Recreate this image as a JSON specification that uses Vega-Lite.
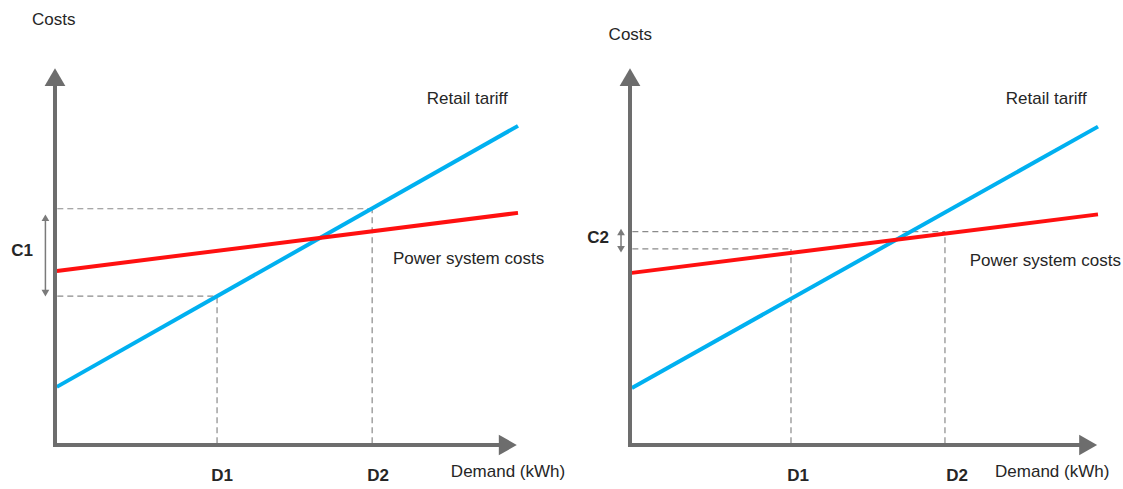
{
  "$schema": "https://vega.github.io/schema/vega-lite/v6.json",
  "padding": 0,
  "spacing": 0,
  "bounds": "flush",
  "background": "white",
  "config": {"view": {"stroke": null}, "text": {"font": "Liberation Sans"}},
  "data": {"values": [
    {"panel": "A", "role": "axis", "x": -0.43, "y": 0, "x2": 96.5, "y2": 0},
    {"panel": "A", "role": "axis", "x": 0, "y": -0.53, "x2": 0, "y2": 96},
    {"panel": "A", "role": "yhead", "x": 0, "y": 98.1},
    {"panel": "A", "role": "xhead", "x": 97.8, "y": 0},
    {"panel": "A", "role": "curve", "series": "Retail tariff", "x": 0.4, "y": 15.5, "x2": 100, "y2": 85.1},
    {"panel": "A", "role": "curve", "series": "Power system costs", "x": 0.4, "y": 46.4, "x2": 100, "y2": 61.9},
    {"panel": "A", "role": "guide", "x": 0.5, "y": 39.7, "x2": 35, "y2": 39.7},
    {"panel": "A", "role": "guide", "x": 35, "y": 0.5, "x2": 35, "y2": 39.7},
    {"panel": "A", "role": "guide", "x": 0.5, "y": 63.0, "x2": 68.5, "y2": 63.0},
    {"panel": "A", "role": "guide", "x": 68.5, "y": 0.5, "x2": 68.5, "y2": 63.0},
    {"panel": "A", "role": "bracket", "x": -2.07, "y": 40.5, "x2": -2.07, "y2": 60.6},
    {"panel": "A", "role": "bup", "x": -2.07, "y": 60.6},
    {"panel": "A", "role": "bdown", "x": -2.07, "y": 40.5},
    {"panel": "A", "role": "text", "text": "Costs", "x": -4.97, "y": 113.3},
    {"panel": "A", "role": "text", "text": "Retail tariff", "x": 80.3, "y": 92.3},
    {"panel": "A", "role": "text", "text": "Power system costs", "x": 73.0, "y": 49.6},
    {"panel": "A", "role": "text", "text": "Demand (kWh)", "x": 85.5, "y": -7.2},
    {"panel": "A", "role": "bold", "text": "C1", "x": -7.13, "y": 51.7},
    {"panel": "A", "role": "bold", "text": "D1", "x": 36.1, "y": -8.3},
    {"panel": "A", "role": "bold", "text": "D2", "x": 69.8, "y": -8.3},
    {"panel": "B", "role": "axis", "x": -0.43, "y": 0, "x2": 96.5, "y2": 0},
    {"panel": "B", "role": "axis", "x": 0, "y": -0.53, "x2": 0, "y2": 96},
    {"panel": "B", "role": "yhead", "x": 0, "y": 98.1},
    {"panel": "B", "role": "xhead", "x": 97.9, "y": 0},
    {"panel": "B", "role": "curve", "series": "Retail tariff", "x": 0.4, "y": 15.2, "x2": 100, "y2": 84.9},
    {"panel": "B", "role": "curve", "series": "Power system costs", "x": 0.4, "y": 45.9, "x2": 100, "y2": 61.5},
    {"panel": "B", "role": "guide", "x": 0.5, "y": 52.3, "x2": 34.4, "y2": 52.3},
    {"panel": "B", "role": "guide", "x": 34.4, "y": 0.5, "x2": 34.4, "y2": 52.3},
    {"panel": "B", "role": "guide", "x": 0.5, "y": 56.9, "x2": 67.3, "y2": 56.9},
    {"panel": "B", "role": "guide", "x": 67.3, "y": 0.5, "x2": 67.3, "y2": 56.9},
    {"panel": "B", "role": "bracket", "x": -1.92, "y": 52.2, "x2": -1.92, "y2": 56.8},
    {"panel": "B", "role": "bup", "x": -1.92, "y": 56.8},
    {"panel": "B", "role": "bdown", "x": -1.92, "y": 52.2},
    {"panel": "B", "role": "text", "text": "Costs", "x": -4.57, "y": 109.3},
    {"panel": "B", "role": "text", "text": "Retail tariff", "x": 80.3, "y": 92.3},
    {"panel": "B", "role": "text", "text": "Power system costs", "x": 72.6, "y": 49.1},
    {"panel": "B", "role": "text", "text": "Demand (kWh)", "x": 78.0, "y": -7.2},
    {"panel": "B", "role": "bold", "text": "C2", "x": -6.84, "y": 55.2},
    {"panel": "B", "role": "bold", "text": "D1", "x": 35.9, "y": -8.3},
    {"panel": "B", "role": "bold", "text": "D2", "x": 69.9, "y": -8.3}
  ]},
  "hconcat": [
    {
      "width": 570, "height": 489,
      "transform": [{"filter": "datum.panel === 'A'"}],
      "layer": [
        {"transform": [{"filter": "datum.role === 'guide'"}],
         "mark": {"type": "rule", "stroke": "#8a8a8a", "strokeWidth": 1.2, "strokeDash": [6, 4]},
         "encoding": {
           "x": {"field": "x", "type": "quantitative", "scale": {"domain": [-11.879, 111.231], "nice": false, "zero": false}, "axis": null},
           "y": {"field": "y", "type": "quantitative", "scale": {"domain": [-11.733, 118.667], "nice": false, "zero": false}, "axis": null},
           "x2": {"field": "x2"}, "y2": {"field": "y2"}}},
        {"transform": [{"filter": "datum.role === 'curve'"}],
         "mark": {"type": "rule", "strokeWidth": 4},
         "encoding": {
           "x": {"field": "x", "type": "quantitative", "scale": {"domain": [-11.879, 111.231], "nice": false, "zero": false}, "axis": null},
           "y": {"field": "y", "type": "quantitative", "scale": {"domain": [-11.733, 118.667], "nice": false, "zero": false}, "axis": null},
           "x2": {"field": "x2"}, "y2": {"field": "y2"},
           "color": {"field": "series", "type": "nominal", "scale": {"domain": ["Retail tariff", "Power system costs"], "range": ["#00b0f0", "#ff1010"]}, "legend": null}}},
        {"transform": [{"filter": "datum.role === 'axis'"}],
         "mark": {"type": "rule", "stroke": "#6d6d6d", "strokeWidth": 4},
         "encoding": {
           "x": {"field": "x", "type": "quantitative", "scale": {"domain": [-11.879, 111.231], "nice": false, "zero": false}, "axis": null},
           "y": {"field": "y", "type": "quantitative", "scale": {"domain": [-11.733, 118.667], "nice": false, "zero": false}, "axis": null},
           "x2": {"field": "x2"}, "y2": {"field": "y2"}}},
        {"transform": [{"filter": "datum.role === 'yhead'"}],
         "mark": {"type": "point", "shape": "triangle-up", "filled": true, "color": "#6d6d6d", "size": 430, "opacity": 1},
         "encoding": {
           "x": {"field": "x", "type": "quantitative", "scale": {"domain": [-11.879, 111.231], "nice": false, "zero": false}, "axis": null},
           "y": {"field": "y", "type": "quantitative", "scale": {"domain": [-11.733, 118.667], "nice": false, "zero": false}, "axis": null}}},
        {"transform": [{"filter": "datum.role === 'xhead'"}],
         "mark": {"type": "point", "shape": "triangle-right", "filled": true, "color": "#6d6d6d", "size": 430, "opacity": 1},
         "encoding": {
           "x": {"field": "x", "type": "quantitative", "scale": {"domain": [-11.879, 111.231], "nice": false, "zero": false}, "axis": null},
           "y": {"field": "y", "type": "quantitative", "scale": {"domain": [-11.733, 118.667], "nice": false, "zero": false}, "axis": null}}},
        {"transform": [{"filter": "datum.role === 'bracket'"}],
         "mark": {"type": "rule", "stroke": "#7a7a7a", "strokeWidth": 1.5},
         "encoding": {
           "x": {"field": "x", "type": "quantitative", "scale": {"domain": [-11.879, 111.231], "nice": false, "zero": false}, "axis": null},
           "y": {"field": "y", "type": "quantitative", "scale": {"domain": [-11.733, 118.667], "nice": false, "zero": false}, "axis": null},
           "x2": {"field": "x2"}, "y2": {"field": "y2"}}},
        {"transform": [{"filter": "datum.role === 'bup'"}],
         "mark": {"type": "point", "shape": "triangle-up", "filled": true, "color": "#7a7a7a", "size": 60, "opacity": 1},
         "encoding": {
           "x": {"field": "x", "type": "quantitative", "scale": {"domain": [-11.879, 111.231], "nice": false, "zero": false}, "axis": null},
           "y": {"field": "y", "type": "quantitative", "scale": {"domain": [-11.733, 118.667], "nice": false, "zero": false}, "axis": null}}},
        {"transform": [{"filter": "datum.role === 'bdown'"}],
         "mark": {"type": "point", "shape": "triangle-down", "filled": true, "color": "#7a7a7a", "size": 60, "opacity": 1},
         "encoding": {
           "x": {"field": "x", "type": "quantitative", "scale": {"domain": [-11.879, 111.231], "nice": false, "zero": false}, "axis": null},
           "y": {"field": "y", "type": "quantitative", "scale": {"domain": [-11.733, 118.667], "nice": false, "zero": false}, "axis": null}}},
        {"transform": [{"filter": "datum.role === 'text'"}],
         "mark": {"type": "text", "align": "left", "baseline": "middle", "fontSize": 17, "color": "#262626"},
         "encoding": {
           "x": {"field": "x", "type": "quantitative", "scale": {"domain": [-11.879, 111.231], "nice": false, "zero": false}, "axis": null},
           "y": {"field": "y", "type": "quantitative", "scale": {"domain": [-11.733, 118.667], "nice": false, "zero": false}, "axis": null},
           "text": {"field": "text"}}},
        {"transform": [{"filter": "datum.role === 'bold'"}],
         "mark": {"type": "text", "align": "center", "baseline": "middle", "fontSize": 17, "fontWeight": "bold", "color": "#262626"},
         "encoding": {
           "x": {"field": "x", "type": "quantitative", "scale": {"domain": [-11.879, 111.231], "nice": false, "zero": false}, "axis": null},
           "y": {"field": "y", "type": "quantitative", "scale": {"domain": [-11.733, 118.667], "nice": false, "zero": false}, "axis": null},
           "text": {"field": "text"}}}
      ]
    },
    {
      "width": 553, "height": 489,
      "transform": [{"filter": "datum.panel === 'B'"}],
      "layer": [
        {"transform": [{"filter": "datum.role === 'guide'"}],
         "mark": {"type": "rule", "stroke": "#8a8a8a", "strokeWidth": 1.2, "strokeDash": [6, 4]},
         "encoding": {
           "x": {"field": "x", "type": "quantitative", "scale": {"domain": [-12.821, 105.342], "nice": false, "zero": false}, "axis": null},
           "y": {"field": "y", "type": "quantitative", "scale": {"domain": [-11.733, 118.667], "nice": false, "zero": false}, "axis": null},
           "x2": {"field": "x2"}, "y2": {"field": "y2"}}},
        {"transform": [{"filter": "datum.role === 'curve'"}],
         "mark": {"type": "rule", "strokeWidth": 4},
         "encoding": {
           "x": {"field": "x", "type": "quantitative", "scale": {"domain": [-12.821, 105.342], "nice": false, "zero": false}, "axis": null},
           "y": {"field": "y", "type": "quantitative", "scale": {"domain": [-11.733, 118.667], "nice": false, "zero": false}, "axis": null},
           "x2": {"field": "x2"}, "y2": {"field": "y2"},
           "color": {"field": "series", "type": "nominal", "scale": {"domain": ["Retail tariff", "Power system costs"], "range": ["#00b0f0", "#ff1010"]}, "legend": null}}},
        {"transform": [{"filter": "datum.role === 'axis'"}],
         "mark": {"type": "rule", "stroke": "#6d6d6d", "strokeWidth": 4},
         "encoding": {
           "x": {"field": "x", "type": "quantitative", "scale": {"domain": [-12.821, 105.342], "nice": false, "zero": false}, "axis": null},
           "y": {"field": "y", "type": "quantitative", "scale": {"domain": [-11.733, 118.667], "nice": false, "zero": false}, "axis": null},
           "x2": {"field": "x2"}, "y2": {"field": "y2"}}},
        {"transform": [{"filter": "datum.role === 'yhead'"}],
         "mark": {"type": "point", "shape": "triangle-up", "filled": true, "color": "#6d6d6d", "size": 430, "opacity": 1},
         "encoding": {
           "x": {"field": "x", "type": "quantitative", "scale": {"domain": [-12.821, 105.342], "nice": false, "zero": false}, "axis": null},
           "y": {"field": "y", "type": "quantitative", "scale": {"domain": [-11.733, 118.667], "nice": false, "zero": false}, "axis": null}}},
        {"transform": [{"filter": "datum.role === 'xhead'"}],
         "mark": {"type": "point", "shape": "triangle-right", "filled": true, "color": "#6d6d6d", "size": 430, "opacity": 1},
         "encoding": {
           "x": {"field": "x", "type": "quantitative", "scale": {"domain": [-12.821, 105.342], "nice": false, "zero": false}, "axis": null},
           "y": {"field": "y", "type": "quantitative", "scale": {"domain": [-11.733, 118.667], "nice": false, "zero": false}, "axis": null}}},
        {"transform": [{"filter": "datum.role === 'bracket'"}],
         "mark": {"type": "rule", "stroke": "#7a7a7a", "strokeWidth": 1.5},
         "encoding": {
           "x": {"field": "x", "type": "quantitative", "scale": {"domain": [-12.821, 105.342], "nice": false, "zero": false}, "axis": null},
           "y": {"field": "y", "type": "quantitative", "scale": {"domain": [-11.733, 118.667], "nice": false, "zero": false}, "axis": null},
           "x2": {"field": "x2"}, "y2": {"field": "y2"}}},
        {"transform": [{"filter": "datum.role === 'bup'"}],
         "mark": {"type": "point", "shape": "triangle-up", "filled": true, "color": "#7a7a7a", "size": 60, "opacity": 1},
         "encoding": {
           "x": {"field": "x", "type": "quantitative", "scale": {"domain": [-12.821, 105.342], "nice": false, "zero": false}, "axis": null},
           "y": {"field": "y", "type": "quantitative", "scale": {"domain": [-11.733, 118.667], "nice": false, "zero": false}, "axis": null}}},
        {"transform": [{"filter": "datum.role === 'bdown'"}],
         "mark": {"type": "point", "shape": "triangle-down", "filled": true, "color": "#7a7a7a", "size": 60, "opacity": 1},
         "encoding": {
           "x": {"field": "x", "type": "quantitative", "scale": {"domain": [-12.821, 105.342], "nice": false, "zero": false}, "axis": null},
           "y": {"field": "y", "type": "quantitative", "scale": {"domain": [-11.733, 118.667], "nice": false, "zero": false}, "axis": null}}},
        {"transform": [{"filter": "datum.role === 'text'"}],
         "mark": {"type": "text", "align": "left", "baseline": "middle", "fontSize": 17, "color": "#262626"},
         "encoding": {
           "x": {"field": "x", "type": "quantitative", "scale": {"domain": [-12.821, 105.342], "nice": false, "zero": false}, "axis": null},
           "y": {"field": "y", "type": "quantitative", "scale": {"domain": [-11.733, 118.667], "nice": false, "zero": false}, "axis": null},
           "text": {"field": "text"}}},
        {"transform": [{"filter": "datum.role === 'bold'"}],
         "mark": {"type": "text", "align": "center", "baseline": "middle", "fontSize": 17, "fontWeight": "bold", "color": "#262626"},
         "encoding": {
           "x": {"field": "x", "type": "quantitative", "scale": {"domain": [-12.821, 105.342], "nice": false, "zero": false}, "axis": null},
           "y": {"field": "y", "type": "quantitative", "scale": {"domain": [-11.733, 118.667], "nice": false, "zero": false}, "axis": null},
           "text": {"field": "text"}}}
      ]
    }
  ]
}
